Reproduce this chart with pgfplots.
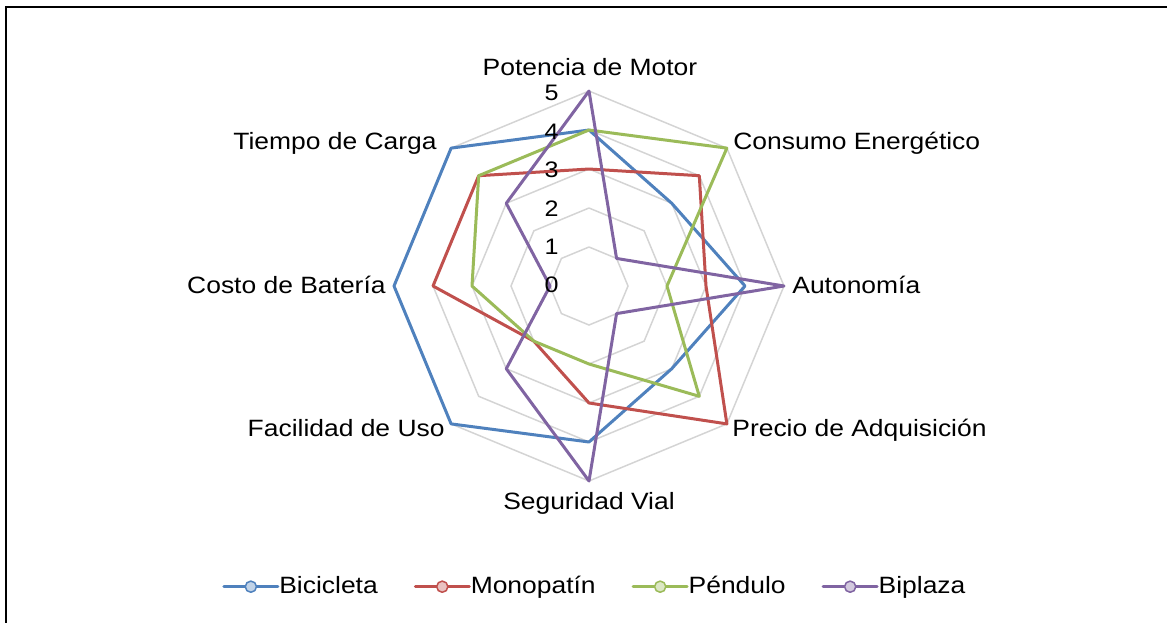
\documentclass[border=0pt]{standalone}
\usepackage{pgfplots}
\pgfplotsset{compat=1.18}
\usepgfplotslibrary{polar}
\usepackage{fontspec}
\setmainfont{Liberation Sans}
\definecolor{cBici}{HTML}{4F81BD}
\definecolor{cMono}{HTML}{C0504D}
\definecolor{cPend}{HTML}{9BBB59}
\definecolor{cBipl}{HTML}{8064A2}
\definecolor{cGrid}{HTML}{D4D4D4}

\pgfplotsset{
  radar/.style={color=#1, line width=1.5bp, line join=round, line cap=round,
    legend image code/.code={
      \draw[#1, line width=1.5bp] (0bp,0bp) -- (27bp,0bp);
      \draw[#1, fill=#1!35!white, line width=0.75bp] (13.5bp,0bp) circle (2.8bp);}},
  ring/.style={cGrid, line width=0.75bp, line cap=round, forget plot},
}
\newcommand{\sx}[1]{\scalebox{1.12}[1]{#1}}
\newcommand{\catfont}{\fontsize{11.8bp}{14bp}\selectfont}

\begin{document}
\begin{tikzpicture}
\useasboundingbox (0bp,0bp) rectangle (583.5bp,-311.5bp);
\draw[line width=1bp] (3bp,-330bp) -- (3bp,-3.5bp) -- (600bp,-3.5bp);
\begin{polaraxis}[
  at={(294.5bp,-143bp)}, anchor=origin,
  width=195bp, height=195bp, scale only axis,
  ymin=0, ymax=5,
  hide axis, clip=false,
  legend columns=4,
  legend style={at={(0.5125,-0.271)}, anchor=center, draw=none, fill=none,
    font=\catfont,
    nodes={inner sep=0bp},
    /tikz/every odd column/.append style={column sep=0bp},
    /tikz/every even column/.append style={column sep=18bp}},
]
% rejilla octogonal
\addplot[ring] coordinates {(90,1)(45,1)(0,1)(315,1)(270,1)(225,1)(180,1)(135,1)(90,1)};
\addplot[ring] coordinates {(90,2)(45,2)(0,2)(315,2)(270,2)(225,2)(180,2)(135,2)(90,2)};
\addplot[ring] coordinates {(90,3)(45,3)(0,3)(315,3)(270,3)(225,3)(180,3)(135,3)(90,3)};
\addplot[ring] coordinates {(90,4)(45,4)(0,4)(315,4)(270,4)(225,4)(180,4)(135,4)(90,4)};
\addplot[ring] coordinates {(90,5)(45,5)(0,5)(315,5)(270,5)(225,5)(180,5)(135,5)(90,5)};

% series: Potencia, Consumo, Autonomia, Precio, Seguridad, Facilidad, Costo, Tiempo
\addplot[radar=cBici] coordinates {(90,4)(45,3)(0,4)(315,3)(270,4)(225,5)(180,5)(135,5)(90,4)};
\addlegendentry{\sx{Bicicleta}}
\addplot[radar=cMono] coordinates {(90,3)(45,4)(0,3)(315,5)(270,3)(225,2)(180,4)(135,4)(90,3)};
\addlegendentry{\sx{Monopatín}}
\addplot[radar=cPend] coordinates {(90,4)(45,5)(0,2)(315,4)(270,2)(225,2)(180,3)(135,4)(90,4)};
\addlegendentry{\sx{Péndulo}}
\addplot[radar=cBipl] coordinates {(90,5)(45,1)(0,5)(315,1)(270,5)(225,3)(180,1)(135,3)(90,5)};
\addlegendentry{\sx{Biplaza}}
\end{polaraxis}

\begin{scope}[x=0.5bp, y=-0.5bp, inner sep=0pt, font=\catfont]
\node[anchor=base] at (590,76) {\sx{Potencia de Motor}};
\node[anchor=base west] at (733,150) {\sx{Consumo Energético}};
\node[anchor=base west] at (792,294) {\sx{Autonomía}};
\node[anchor=base west] at (732,437) {\sx{Precio de Adquisición}};
\node[anchor=base] at (589,510) {\sx{Seguridad Vial}};
\node[anchor=base east] at (445,437) {\sx{Facilidad de Uso}};
\node[anchor=base east] at (386,294) {\sx{Costo de Batería}};
\node[anchor=base east] at (437,150) {\sx{Tiempo de Carga}};
\end{scope}
\begin{scope}[x=0.5bp, y=-0.5bp, inner sep=0pt, font=\fontsize{11.2bp}{13bp}\selectfont]
\node[anchor=base east] at (559,101) {\sx{5}};
\node[anchor=base east] at (559,139.4) {\sx{4}};
\node[anchor=base east] at (559,177.8) {\sx{3}};
\node[anchor=base east] at (559,216.2) {\sx{2}};
\node[anchor=base east] at (559,254.6) {\sx{1}};
\node[anchor=base east] at (559,293) {\sx{0}};
\end{scope}
\end{tikzpicture}
\end{document}
